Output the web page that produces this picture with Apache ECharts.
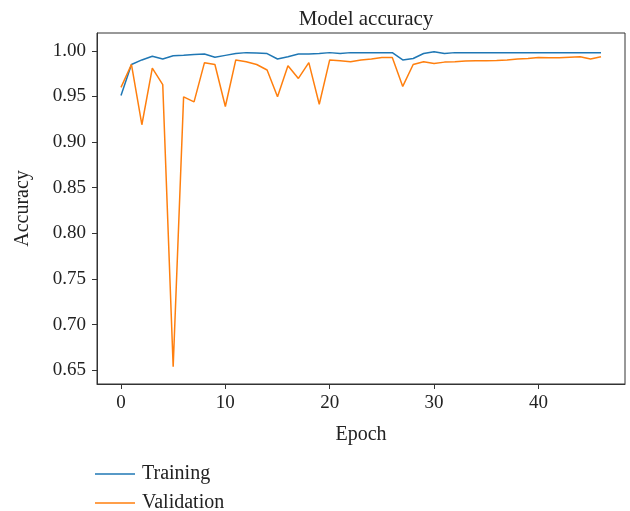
<!DOCTYPE html>
<html><head><meta charset="utf-8">
<script src="https://cdn.jsdelivr.net/npm/echarts@6/dist/echarts.min.js"></script>
<style>html,body{margin:0;padding:0;background:#fff}#c{width:630px;height:511px}</style>
</head><body><div id="c"></div>
<script>
const epochs = Array.from({length:47},(_,i)=>i);
const training = [0.951,0.985,0.990,0.994,0.991,0.9945,0.995,0.996,0.9965,0.993,
  0.995,0.997,0.998,0.9975,0.997,0.991,0.9935,0.9965,0.9965,0.997,
  0.998,0.997,0.998,0.998,0.998,0.998,0.998,0.990,0.9916,0.997,
  0.999,0.997,0.998,0.998,0.998,0.998,0.998,0.998,0.998,0.998,
  0.998,0.998,0.998,0.998,0.998,0.998,0.998];
const validation = [0.960,0.985,0.919,0.981,0.963,0.654,0.9496,0.944,0.987,0.985,
  0.939,0.990,0.988,0.985,0.979,0.9496,0.9836,0.9697,0.987,0.9415,
  0.990,0.989,0.988,0.990,0.991,0.9927,0.9927,0.961,0.985,0.988,
  0.986,0.9876,0.988,0.9887,0.989,0.989,0.9894,0.990,0.991,0.9916,
  0.9927,0.9923,0.9925,0.993,0.9934,0.991,0.9934];
const xTicks = [0,10,20,30,40];
const yTicks = [0.65,0.70,0.75,0.80,0.85,0.90,0.95,1.00];
const FONT = "'Liberation Serif', 'DejaVu Serif', serif";
const chart = echarts.init(document.getElementById('c'));
chart.setOption({
  animation:false,
  title:{text:'Model accuracy',left:361,top:4,textAlign:'center',
    textStyle:{fontFamily:FONT,fontSize:21,fontWeight:'normal',color:'#222'}},
  grid:{left:97,right:5,top:33,bottom:127,show:true,borderColor:'#333',borderWidth:1},
  legend:{orient:'vertical',left:90,top:459,height:52,itemWidth:40,itemHeight:14,itemGap:9,
    icon:'path://M0,6 L40,6 L40,7.5 L0,7.5 Z',
    textStyle:{fontFamily:FONT,fontSize:20,color:'#222',padding:[0,0,0,2]},
    data:['Training','Validation']},
  xAxis:{type:'value',min:-2.3,max:48.3,name:'Epoch',nameLocation:'middle',nameGap:41,
    nameTextStyle:{fontFamily:FONT,fontSize:20,color:'#222'},
    axisLine:{onZero:false,lineStyle:{color:'#333'}},
    axisTick:{show:true,inside:false,length:5,lineStyle:{color:'#333',width:1},customValues:xTicks},
    axisLabel:{fontFamily:FONT,fontSize:19,color:'#222',margin:10,customValues:xTicks},
    splitLine:{show:false}},
  yAxis:{type:'value',min:0.635,max:1.0195,name:'Accuracy',nameLocation:'middle',nameGap:64,
    nameTextStyle:{fontFamily:FONT,fontSize:20,color:'#222'},
    axisLine:{show:true,onZero:false,lineStyle:{color:'#333'}},
    axisTick:{show:true,inside:false,length:5,lineStyle:{color:'#333',width:1},customValues:yTicks},
    axisLabel:{fontFamily:FONT,fontSize:19,color:'#222',margin:11,customValues:yTicks,
      formatter:v=>v.toFixed(2)},
    splitLine:{show:false}},
  series:[
    {name:'Training',type:'line',data:epochs.map((e,i)=>[e,training[i]]),symbol:'none',
      lineStyle:{color:'#1f77b4',width:1.5},itemStyle:{color:'#1f77b4'}},
    {name:'Validation',type:'line',data:epochs.map((e,i)=>[e,validation[i]]),symbol:'none',
      lineStyle:{color:'#ff7f0e',width:1.5},itemStyle:{color:'#ff7f0e'}}
  ]
});
</script></body></html>
